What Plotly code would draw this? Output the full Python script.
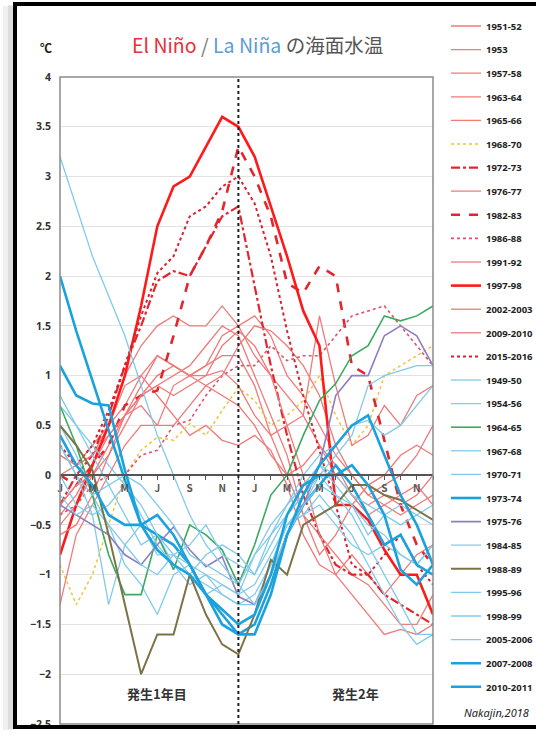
import plotly.graph_objects as go

# ---------------- data ----------------
month_idx = list(range(24))
tick_text = ["J", "", "M", "", "M", "", "J", "", "S", "", "N", ""] * 2

series_names = [
    "1951-52", "1953", "1957-58", "1963-64", "1965-66", "1968-70", "1972-73",
    "1976-77", "1982-83", "1986-88", "1991-92", "1997-98", "2002-2003",
    "2009-2010", "2015-2016",
    "1949-50", "1954-56", "1964-65", "1967-68", "1970-71", "1973-74", "1975-76",
    "1984-85", "1988-89", "1995-96", "1998-99", "2005-2006", "2007-2008", "2010-2011",
]

s1951_52 = [-0.5, -0.3, 0.0, 0.3, 0.6, 0.8, 1.0, 1.1, 1.0, 0.9, 0.8, 0.7, 0.5, 0.2, 0.0, 0.1, 0.3, 0.0, -0.2, -0.4, -0.3, -0.2, -0.1, -0.3]
s1953 = [0.2, 0.1, 0.2, 0.5, 0.9, 1.0, 0.8, 0.6, 0.4, 0.5, 0.35, 0.3, 0.4, 0.25, -0.1, -0.6, -0.9, -1.0, -0.8, -1.0, -1.2, -1.0, -0.8, -0.7]
s1957_58 = [0.0, 0.1, 0.3, 0.5, 0.7, 1.0, 1.2, 1.1, 1.0, 1.1, 1.4, 1.5, 1.6, 1.4, 1.0, 0.8, 0.5, 0.2, 0.0, -0.2, -0.1, 0.0, 0.2, 0.5]
s1963_64 = [-0.3, -0.1, 0.1, 0.4, 0.6, 0.9, 1.2, 1.1, 1.0, 1.1, 1.2, 1.2, 0.9, 0.4, 0.0, -0.4, -0.6, -0.8, -1.0, -1.1, -1.3, -1.5, -1.5, -1.2]
s1965_66 = [-0.4, -0.2, 0.1, 0.5, 1.0, 1.3, 1.5, 1.6, 1.5, 1.5, 1.7, 1.5, 1.2, 1.0, 0.8, 0.6, 0.3, 0.1, -0.2, -0.3, -0.2, -0.3, -0.2, 0.0]
s1968_70 = [-0.9, -1.3, -1.0, -0.5, 0.0, 0.25, 0.38, 0.35, 0.52, 0.4, 0.65, 0.88, 0.75, 0.5, 0.6, 0.75, 1.0, 0.6, 0.3, 0.5, 1.0, 1.1, 1.2, 1.3]
s1972_73 = [-0.3, 0.0, 0.2, 0.6, 1.1, 1.5, 1.95, 2.05, 2.0, 2.3, 2.6, 2.7, 1.9, 1.1, 0.4, -0.2, -0.6, -0.9, -1.0, -1.0, -1.2, -1.3, -1.4, -1.5]
s1976_77 = [-1.3, -0.6, -0.3, 0.0, 0.3, 0.5, 0.5, 0.9, 1.0, 1.0, 1.05, 0.9, 0.6, 0.4, 0.5, 0.6, 1.6, 0.9, 0.3, 0.4, 0.7, 0.5, 0.8, 0.9]
s1982_83 = [0.0, -0.1, 0.1, 0.3, 0.7, 0.8, 0.85, 1.4, 2.0, 2.3, 2.65, 3.3, 3.0, 2.6, 1.93, 1.83, 2.1, 2.0, 1.1, 1.0, 0.35, -0.3, -0.7, -0.9]
s1986_88 = [-0.4, -0.3, -0.1, 0.0, 0.0, 0.2, 0.25, 0.5, 0.55, 0.8, 1.0, 1.1, 1.1, 1.3, 1.15, 1.2, 1.2, 1.4, 1.6, 1.65, 1.7, 1.5, 1.3, 1.1]
s1991_92 = [0.2, 0.1, 0.2, 0.4, 0.6, 0.7, 0.5, 0.5, 0.7, 0.9, 1.0, 1.3, 1.5, 1.45, 1.3, 1.1, 0.8, 0.3, 0.0, -0.2, -0.3, -0.4, -0.3, -0.2]
s1997_98 = [-0.8, -0.3, 0.1, 0.5, 1.0, 1.7, 2.5, 2.9, 3.0, 3.3, 3.6, 3.5, 3.2, 2.7, 2.2, 1.65, 1.3, -0.3, -0.3, -0.45, -0.75, -1.0, -1.0, -1.4]
s2002_03 = [-0.3, -0.1, 0.0, 0.2, 0.5, 0.8, 0.9, 1.0, 1.1, 1.3, 1.5, 1.4, 1.0, 0.6, 0.2, -0.4, -0.8, -0.6, -0.3, -0.1, 0.0, 0.2, 0.3, 0.2]
s2009_10 = [-0.6, -0.5, -0.2, 0.2, 0.6, 0.8, 0.9, 0.8, 0.9, 1.0, 1.3, 1.45, 1.3, 1.0, 0.5, 0.0, -0.6, -1.0, -1.2, -1.4, -1.6, -1.55, -1.6, -1.5]
s2015_16 = [0.3, 0.1, 0.3, 0.65, 1.1, 1.6, 2.03, 2.2, 2.6, 2.7, 2.9, 3.0, 2.73, 2.2, 1.45, 0.8, 0.25, -0.3, -0.9, -1.0, -0.8, -0.6, -0.9, -1.1]

s1949_50 = [0.8, 0.5, 0.2, -0.1, -0.4, -0.7, -0.6, -0.9, -1.1, -1.0, -1.2, -1.3, -1.3, -0.9, -0.5, -0.4, -0.3, -0.5, -0.7, -0.8, -0.7, -0.8, -0.9, -0.7]
s1954_56 = [0.5, 0.2, -0.2, -0.5, -0.9, -1.1, -1.4, -1.0, -0.9, -1.2, -1.1, -1.2, -1.1, -0.8, -0.5, -0.4, -0.2, -0.4, -0.6, -0.9, -1.2, -1.5, -1.7, -1.6]
s1964_65 = [0.7, 0.3, -0.2, -0.8, -1.2, -1.2, -0.6, -0.95, -0.5, -0.6, -0.75, -1.1, -0.7, -0.2, 0.0, 0.4, 0.75, 0.92, 1.2, 1.3, 1.6, 1.55, 1.6, 1.7]
s1967_68 = [0.0, -0.3, -0.4, -0.3, -0.1, -0.4, -0.7, -0.9, -1.0, -0.8, -0.7, -0.8, -1.0, -0.6, -0.3, 0.0, 0.2, 0.3, 0.5, 0.55, 0.4, 0.5, 0.7, 0.9]
s1970_71 = [0.3, 0.0, -0.4, -1.3, -0.7, -0.5, -0.8, -0.8, -1.0, -1.1, -1.2, -1.3, -1.2, -0.9, -0.5, -0.3, 0.0, -0.2, -0.3, -0.5, -0.6, -0.8, -0.9, -0.7]
s1973_74 = [2.0, 1.45, 0.95, 0.45, -0.05, -0.5, -0.6, -0.7, -0.9, -1.2, -1.4, -1.6, -1.5, -1.1, -0.6, -0.3, -0.1, 0.1, -0.1, -0.4, -0.7, -0.6, -0.9, -1.0]
s1975_76 = [-0.3, -0.4, -0.5, -0.6, -0.8, -0.9, -0.7, -0.52, -0.75, -0.92, -0.82, -1.22, -1.3, -1.0, -0.6, -0.3, 0.1, 0.8, 1.0, 1.0, 1.4, 1.5, 1.4, 1.1]
s1984_85 = [-0.2, -0.4, -0.3, -0.5, -0.7, -0.9, -1.0, -0.8, -0.7, -0.5, -0.8, -0.9, -1.0, -0.7, -0.4, -0.2, 0.1, -0.1, -0.3, -0.6, -0.4, -0.3, -0.4, -0.3]
s1988_89 = [0.5, 0.3, 0.05, -0.6, -1.3, -2.0, -1.6, -1.6, -1.0, -1.4, -1.7, -1.8, -1.4, -0.85, -1.0, -0.5, -0.4, -0.3, -0.1, -0.1, -0.2, -0.25, -0.35, -0.45]
s1995_96 = [0.7, 0.5, 0.3, 0.1, -0.1, -0.3, -0.6, -0.8, -0.9, -1.0, -1.1, -1.2, -0.8, -0.5, -0.3, -0.1, 0.1, 0.0, -0.2, -0.3, -0.4, -0.5, -0.4, -0.5]
s1998_99 = [3.2, 2.7, 2.2, 1.8, 1.4, 0.9, 0.4, 0.0, -0.4, -0.7, -0.9, -1.1, -1.3, -1.0, -0.6, -0.3, -0.1, -0.2, -0.4, -0.7, -1.0, -1.3, -1.6, -1.6]
s2005_06 = [0.3, 0.0, -0.2, -0.1, 0.0, -0.1, -0.3, -0.5, -0.8, -0.9, -1.0, -1.1, -0.8, -0.6, -0.4, -0.2, 0.0, 0.2, 0.4, 0.9, 1.0, 1.05, 1.1, 1.1]
s2007_08 = [0.4, 0.1, -0.1, -0.4, -0.5, -0.5, -0.4, -0.6, -0.9, -1.2, -1.5, -1.6, -1.6, -1.2, -0.6, -0.2, 0.1, 0.3, 0.5, 0.6, 0.2, -0.2, -0.5, -0.9]
s2010_11 = [1.1, 0.8, 0.72, 0.7, 0.05, -0.5, -0.75, -0.9, -1.0, -1.2, -1.35, -1.5, -1.4, -1.0, -0.4, -0.1, 0.0, 0.0, 0.1, -0.1, -0.4, -0.95, -1.1, -0.9]

series_values = [
    s1951_52, s1953, s1957_58, s1963_64, s1965_66, s1968_70, s1972_73, s1976_77,
    s1982_83, s1986_88, s1991_92, s1997_98, s2002_03, s2009_10, s2015_16,
    s1949_50, s1954_56, s1964_65, s1967_68, s1970_71, s1973_74, s1975_76,
    s1984_85, s1988_89, s1995_96, s1998_99, s2005_06, s2007_08, s2010_11,
]

# ---------------- styles ----------------
LR = "#f07a7a"
LB = "#80cbea"
TB = "#1aa2de"
styles = {
    "1968-70": ("#f2c23a", 1.5, "dot"),
    "1972-73": ("#e3262e", 2.2, "dashdot"),
    "1982-83": ("#e3262e", 2.6, "dash"),
    "1986-88": ("#e2506a", 1.6, "dot"),
    "1997-98": ("#ff1a1a", 2.6, "solid"),
    "2015-2016": ("#d92030", 2.0, "dot"),
    "1964-65": ("#3aaa5e", 1.6, "solid"),
    "1973-74": (TB, 2.6, "solid"),
    "1975-76": ("#8f7fc0", 1.6, "solid"),
    "1988-89": ("#7d7246", 2.0, "solid"),
    "2007-2008": (TB, 2.6, "solid"),
    "2010-2011": (TB, 2.6, "solid"),
}

fig = go.Figure()
for i, (name, vals) in enumerate(zip(series_names, series_values)):
    default = (LR, 1.3, "solid") if i < 15 else (LB, 1.3, "solid")
    color, width, dash = styles.get(name, default)
    fig.add_trace(go.Scatter(
        x=month_idx, y=vals, mode="lines", name=name, legendgroup=name,
        line=dict(color=color, width=width, dash=dash),
    ))

# plot-area geometry in px: x 60..433, y 77..724
PL, PR, PT, PB = 60, 433, 77, 724
W, H = 536, 736
def px_x(p):
    return (p - PL) / (PR - PL)
def px_y(p):
    return (PB - p) / (PB - PT)

fig.update_layout(
    width=W, height=H,
    margin=dict(l=PL, r=W - PR, t=PT, b=H - PB, pad=0, autoexpand=False),
    paper_bgcolor="white", plot_bgcolor="white",
    font=dict(family="Noto Sans CJK JP, Noto Sans, sans-serif", color="#333"),
    showlegend=True,
    legend=dict(
        xref="container", yref="container",
        x=446 / W, y=1 - 11.5 / H, xanchor="left", yanchor="top",
        font=dict(size=9.5, color="#222", weight="bold",
                  family="Noto Sans, sans-serif"),
        tracegroupgap=4.6, traceorder="grouped", maxheight=730,
        bgcolor="rgba(0,0,0,0)", itemwidth=30,
    ),
    xaxis=dict(
        range=[0, 23], tickvals=month_idx, ticktext=tick_text,
        anchor="free", position=px_y(475),
        showline=True, linecolor="#555", linewidth=1.5,
        ticks="outside", ticklen=4, tickcolor="#555", tickwidth=1,
        tickfont=dict(size=10, color="#555", weight="bold"),
        showgrid=False, zeroline=False,
    ),
    yaxis=dict(
        range=[-2.5, 4], dtick=0.5, tick0=0,
        showgrid=True, gridcolor="#e2e2e2", gridwidth=1,
        zeroline=False, showline=False, ticks="",
        tickfont=dict(size=10.5, color="#333", weight="bold",
                      family="Noto Sans, sans-serif"),
        ticklabelstandoff=8,
    ),
)

shapes = [
    # plot frame
    dict(type="rect", xref="paper", yref="paper", x0=0, x1=1, y0=0, y1=1,
         line=dict(color="#8a8a8a", width=1.5), layer="above"),
    # boundary between year 1 and year 2
    dict(type="line", xref="x", yref="paper", x0=11, x1=11, y0=0, y1=1,
         line=dict(color="#222", width=2, dash="dot"), layer="above"),
    # outer shadow
    dict(type="rect", xref="paper", yref="paper", x0=px_x(3), x1=px_x(14),
         y0=px_y(730), y1=px_y(6), fillcolor="rgba(0,0,0,0.06)", line=dict(width=0), layer="below"),
    dict(type="rect", xref="paper", yref="paper", x0=px_x(8), x1=px_x(14),
         y0=px_y(729), y1=px_y(5), fillcolor="rgba(0,0,0,0.08)", line=dict(width=0), layer="below"),
    # outer black frame
    dict(type="rect", xref="paper", yref="paper", x0=px_x(15), x1=px_x(545),
         y0=px_y(727), y1=px_y(4), line=dict(color="#000", width=4), layer="above"),
]
fig.update_layout(shapes=shapes)

annotations = [
    dict(xref="paper", yref="paper", x=px_x(257), y=px_y(44), xanchor="center", yanchor="middle",
         text="<span style='color:#e8303a'>El Niño</span> <span style='color:#777'>/</span> "
              "<span style='color:#5b9bd8'>La Niña</span> <span style='color:#555'>の海面水温</span>",
         showarrow=False, font=dict(size=19.5, family="Noto Sans CJK JP, Noto Sans, sans-serif")),
    dict(xref="paper", yref="paper", x=px_x(46), y=px_y(47), xanchor="center", yanchor="middle",
         text="℃", showarrow=False, font=dict(size=12, color="#222", weight="bold")),
    dict(xref="x", yref="y", x=6, y=-2.19, text="発生1年目", showarrow=False,
         font=dict(size=13, color="#333", weight="bold")),
    dict(xref="x", yref="y", x=18.2, y=-2.19, text="発生2年", showarrow=False,
         font=dict(size=13, color="#333", weight="bold")),
    dict(xref="paper", yref="paper", x=px_x(497), y=px_y(712), xanchor="center", yanchor="middle",
         text="Nakajin,2018", showarrow=False,
         font=dict(size=11, color="#222", style="italic", family="Noto Sans, sans-serif")),
]
fig.update_layout(annotations=annotations)

fig.write_html(
    "out.html",
    post_script="document.body.style.margin='0';document.body.style.overflow='hidden';",
)
